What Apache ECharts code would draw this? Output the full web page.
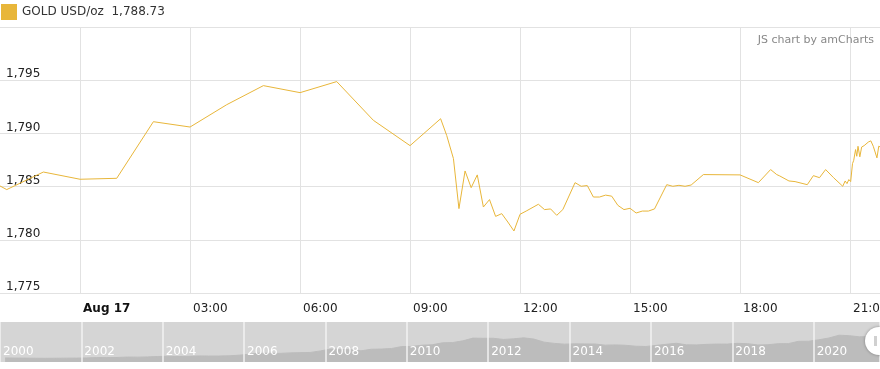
<!DOCTYPE html>
<html>
<head>
<meta charset="utf-8">
<script src="https://cdn.jsdelivr.net/npm/echarts@6/dist/echarts.min.js"></script>
<style>html,body{margin:0;padding:0;background:#fff;}#c{width:880px;height:369px;}</style>
</head>
<body>
<div id="c"></div>
<script>
// Intraday gold price, Aug 16 21:49 -> Aug 17 21:49
const times = ['2021-08-16 21:49','2021-08-16 22:00','2021-08-16 23:00','2021-08-17 00:00','2021-08-17 01:00','2021-08-17 02:00','2021-08-17 03:00','2021-08-17 04:00','2021-08-17 05:00','2021-08-17 06:00','2021-08-17 07:00','2021-08-17 08:00','2021-08-17 09:00','2021-08-17 09:50','2021-08-17 10:00','2021-08-17 10:11','2021-08-17 10:20','2021-08-17 10:30','2021-08-17 10:40','2021-08-17 10:50','2021-08-17 11:00','2021-08-17 11:10','2021-08-17 11:20','2021-08-17 11:30','2021-08-17 11:40','2021-08-17 11:50','2021-08-17 12:00','2021-08-17 12:10','2021-08-17 12:30','2021-08-17 12:40','2021-08-17 12:50','2021-08-17 13:00','2021-08-17 13:10','2021-08-17 13:30','2021-08-17 13:40','2021-08-17 13:50','2021-08-17 14:00','2021-08-17 14:10','2021-08-17 14:20','2021-08-17 14:30','2021-08-17 14:40','2021-08-17 14:50','2021-08-17 15:00','2021-08-17 15:10','2021-08-17 15:20','2021-08-17 15:30','2021-08-17 15:40','2021-08-17 16:00','2021-08-17 16:10','2021-08-17 16:20','2021-08-17 16:30','2021-08-17 16:40','2021-08-17 17:00','2021-08-17 18:00','2021-08-17 18:30','2021-08-17 18:50','2021-08-17 19:00','2021-08-17 19:05','2021-08-17 19:20','2021-08-17 19:30','2021-08-17 19:50','2021-08-17 20:00','2021-08-17 20:10','2021-08-17 20:20','2021-08-17 20:33','2021-08-17 20:48','2021-08-17 20:52','2021-08-17 20:55','2021-08-17 20:58','2021-08-17 21:01','2021-08-17 21:04','2021-08-17 21:06','2021-08-17 21:09','2021-08-17 21:11','2021-08-17 21:13','2021-08-17 21:16','2021-08-17 21:19','2021-08-17 21:23','2021-08-17 21:26','2021-08-17 21:30','2021-08-17 21:34','2021-08-17 21:38','2021-08-17 21:44','2021-08-17 21:47','2021-08-17 21:49'];
const goldValues = [1785.06,1784.72,1786.37,1785.69,1785.78,1791.10,1790.60,1792.70,1794.49,1793.83,1794.87,1791.23,1788.85,1791.38,1789.80,1787.63,1782.93,1786.47,1784.90,1786.10,1783.08,1783.78,1782.20,1782.46,1781.67,1780.83,1782.40,1782.70,1783.34,1782.84,1782.90,1782.30,1782.84,1785.37,1785.03,1785.10,1784.02,1784.02,1784.20,1784.10,1783.24,1782.84,1782.96,1782.52,1782.70,1782.70,1782.90,1785.18,1785.03,1785.12,1785.03,1785.15,1786.13,1786.10,1785.37,1786.60,1786.13,1786.00,1785.53,1785.47,1785.18,1786.03,1785.84,1786.60,1785.84,1785.03,1785.53,1785.28,1785.66,1785.47,1787.16,1787.47,1788.48,1787.85,1788.79,1787.80,1788.72,1788.85,1788.98,1789.19,1789.30,1788.79,1787.70,1788.80,1788.73];
// x-axis tick positions (hours from Aug 17 00:00)
const hourTicks = [0, 3, 6, 9, 12, 15, 18, 21];

// Long-term (scrollbar) series, quarterly
const years = [];
for (let y = 2000; y <= 2021; y++) { for (let q = 0; q < 4; q++) { years.push(y + q * 0.25 + 0.125); } }
const longPrices = [290,280,277,268, 263,268,274,278, 290,313,314,323, 352,347,363,392, 408,393,401,434, 427,427,440,485, 554,628,622,614, 650,667,680,788, 925,896,872,795, 908,922,960,1100, 1109,1197,1227,1367, 1386,1506,1702,1688, 1691,1609,1652,1722, 1632,1415,1326,1272, 1293,1288,1282,1201, 1218,1192,1124,1105, 1183,1260,1335,1222, 1219,1257,1278,1275, 1329,1306,1213,1228, 1304,1309,1472,1481, 1583,1711,1909,1874, 1794,1816,1790];
const longEnd = 2021.63;

const seriesName = 'GOLD USD/oz';
const yTicks = { min: 1775, max: 1800, step: 5 };

function toHours(s) {
  const d = parseInt(s.slice(8, 10), 10);
  const h = parseInt(s.slice(11, 13), 10);
  const m = parseInt(s.slice(14, 16), 10);
  return (d - 17) * 24 + h + m / 60;
}
function fmtNum(v, dec) {
  const parts = v.toFixed(dec).split('.');
  parts[0] = parts[0].replace(/\B(?=(\d{3})+(?!\d))/g, ',');
  return parts.join('.');
}
const lineData = times.map((t, i) => [toHours(t), goldValues[i]]);
const longData = years.slice(0, longPrices.length).map((y, i) => [y, longPrices[i]]);
const xMin = toHours(times[0]);
const xMax = toHours(times[times.length - 1]);
const FONT = 'DejaVu Sans';

const chart = echarts.init(document.getElementById('c'), null, { renderer: 'canvas' });
chart.setOption({
  animation: false,
  textStyle: { fontFamily: FONT },
  title: {
    text: 'JS chart by amCharts', right: 1, top: 30,
    textStyle: { fontFamily: FONT, fontSize: 11, fontWeight: 'normal', color: '#888' }
  },
  legend: {
    data: [seriesName], left: 1, top: 4, icon: 'rect', itemWidth: 16, itemHeight: 16,
    padding: 0,
    textStyle: { fontFamily: FONT, fontSize: 12, color: '#333' },
    formatter: function (n) { return n + '  ' + fmtNum(goldValues[goldValues.length - 1], 2); }
  },
  grid: [
    { left: 0, right: 0, top: 27, height: 266, outerBoundsMode: 'none', containLabel: false },
    { left: 0, right: 0, top: 322, height: 40, show: true, backgroundColor: '#d5d5d5', borderWidth: 0, outerBoundsMode: 'none', containLabel: false }
  ],
  xAxis: [
    {
      type: 'value', gridIndex: 0, min: xMin, max: xMax,
      axisLine: { show: false },
      axisTick: { show: false, customValues: hourTicks },
      splitLine: { show: true, lineStyle: { color: '#e2e2e2', width: 1 } },
      axisLabel: {
        customValues: hourTicks, align: 'left', margin: 10,
        padding: [0, 0, 0, 3], fontSize: 12, color: '#222', fontFamily: FONT,
        formatter: function (v) {
          if (Math.abs(v - Math.round(v)) > 1e-6) return '';
          if (v === 0) return '{b|Aug 17}';
          const h = ((v % 24) + 24) % 24;
          return (h < 10 ? '0' : '') + h + ':00';
        },
        rich: { b: { fontWeight: 'bold', fontSize: 12, fontFamily: FONT, color: '#111' } }
      }
    },
    {
      type: 'value', gridIndex: 1, min: 2000, max: longEnd, interval: 2, z: 5,
      axisLine: { show: false }, axisTick: { show: false },
      splitLine: { show: true, lineStyle: { color: '#f2f2f2', width: 1.5 } },
      axisLabel: {
        inside: true, showMaxLabel: false, align: 'left', margin: 4, padding: [0, 0, 0, 3],
        fontSize: 12, color: '#fff', fontFamily: FONT,
        formatter: function (v) { return Math.abs(v - Math.round(v)) > 1e-6 ? '' : String(v); }
      }
    }
  ],
  yAxis: [
    {
      type: 'value', gridIndex: 0, min: yTicks.min, max: yTicks.max, interval: yTicks.step,
      axisLine: { show: false }, axisTick: { show: false },
      splitLine: { show: true, lineStyle: { color: '#e2e2e2', width: 1 } },
      axisLabel: {
        inside: true, showMaxLabel: false, margin: 6, verticalAlign: 'bottom',
        fontSize: 12, color: '#222', fontFamily: FONT,
        formatter: function (v) { return fmtNum(v, 0); }
      }
    },
    { type: 'value', gridIndex: 1, min: 0, max: 2850, show: false, splitLine: { show: false } }
  ],
  series: [
    {
      name: seriesName, type: 'line', xAxisIndex: 0, yAxisIndex: 0, data: lineData,
      showSymbol: false, symbol: 'none', color: '#e8b63a',
      lineStyle: { color: '#e8b63a', width: 1 }, clip: true
    },
    {
      name: 'long', type: 'line', xAxisIndex: 1, yAxisIndex: 1, data: longData,
      showSymbol: false, symbol: 'none', silent: true,
      lineStyle: { color: '#bcbcbc', width: 1 },
      areaStyle: { color: '#bcbcbc', opacity: 1 }, z: 1
    }
  ],
  graphic: [
    {
      type: 'circle', shape: { cx: 879, cy: 341, r: 14 },
      style: { fill: '#ffffff', shadowBlur: 3, shadowColor: 'rgba(0,0,0,0.35)' }, z: 100
    },
    {
      type: 'rect', shape: { x: 874, y: 336, width: 3, height: 10 },
      style: { fill: '#d0d0d0' }, z: 101
    }
  ]
});
</script>
</body>
</html>
